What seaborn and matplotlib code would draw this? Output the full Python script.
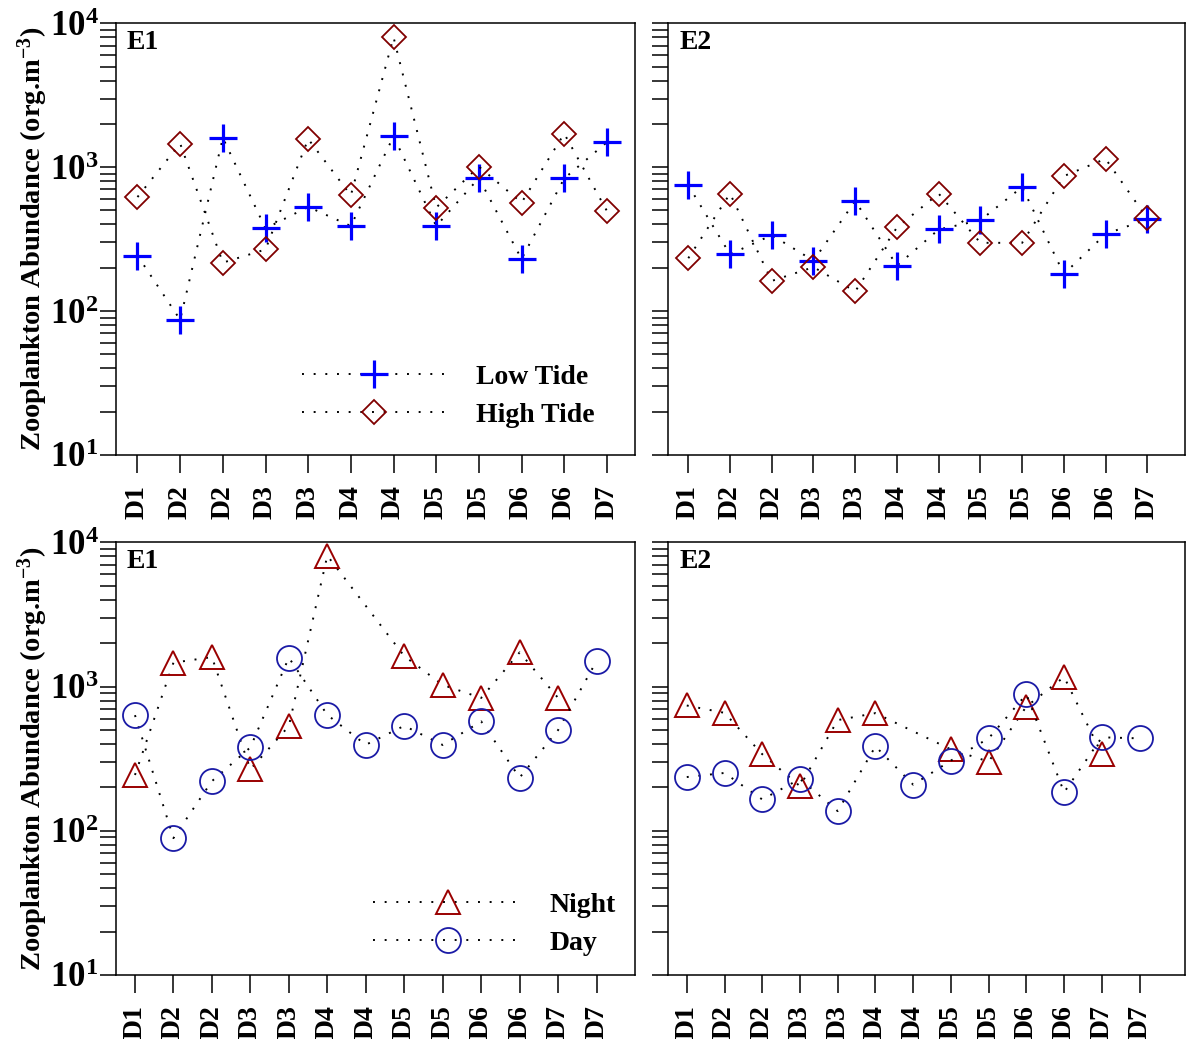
import numpy as np
import pandas as pd
import matplotlib
matplotlib.use("Agg")
import matplotlib.pyplot as plt
import seaborn as sns
from matplotlib.ticker import LogLocator, NullFormatter, FuncFormatter

# Tick labels (sampling days)
days_tide = ['D1', 'D2', 'D2', 'D3', 'D3', 'D4', 'D4', 'D5', 'D5', 'D6', 'D6', 'D7']
days_diel = ['D1', 'D2', 'D2', 'D3', 'D3', 'D4', 'D4', 'D5', 'D5', 'D6', 'D6', 'D7', 'D7']

# Zooplankton abundance (org.m-3)
e1_low_tide = [243, 87, 1600, 375, 530, 390, 1640, 390, 840, 230, 835, 1490]
e1_high_tide = [620, 1460, 217, 268, 1570, 637, 8000, 524, 1010, 567, 1710, 497]
e2_low_tide = [748, 248, 337, 224, 582, 207, 369, 428, 728, 181, 343, 435]
e2_high_tide = [233, 655, 162, 202, 137, 381, 655, 298, 298, 867, 1143, 440]

e1_night = [244, 1466, 1603, 267, 532, 8100, np.nan, 1630, 1028, 835, 1728, 835, np.nan]
e1_day = [634, 89, 221, 379, 1589, 637, 395, 535, 394, 574, 234, 500, 1506]
e2_night = [740, 658, 340, 204, 586, 655, np.nan, 367, 302, 728, 1167, 340, np.nan]
e2_day = [236, 252, 165, 229, 137, 385, 209, 307, 438, 885, 185, 445, 438]

sns.set_style("ticks")
plt.rcParams['font.family'] = ['Liberation Serif', 'DejaVu Serif']
plt.rcParams['font.weight'] = 'bold'
plt.rcParams['mathtext.fontset'] = 'custom'
plt.rcParams['mathtext.rm'] = 'Liberation Serif:bold'
plt.rcParams['mathtext.bf'] = 'Liberation Serif:bold'
plt.rcParams['mathtext.it'] = 'Liberation Serif:bold:italic'
for key in ['text.color', 'axes.labelcolor', 'xtick.color', 'ytick.color', 'axes.edgecolor']:
    plt.rcParams[key] = 'black'

STYLES = {
    'Low Tide': dict(marker='+', markersize=19.5, mec='#0000ff', mew=2.3),
    'High Tide': dict(marker='D', markersize=12.5, mfc='none', mec='#800000', mew=1.3),
    'Night': dict(marker='^', markersize=17, mfc='none', mec='#9a0000', mew=1.4),
    'Day': dict(marker='o', markersize=18, mfc='none', mec='#1a1aa6', mew=1.3),
}


def draw_series(ax, values, name, with_label):
    df = pd.DataFrame({'x': np.arange(1, len(values) + 1), 'y': values}).dropna()
    st = STYLES[name]
    sns.lineplot(data=df, x='x', y='y', ax=ax, color='k', linestyle=(0, (1, 5)),
                 lw=1.4, errorbar=None, label=name if with_label else None,
                 legend=with_label, **st)


def style_panel(ax, labels, xlim, tag, left_col):
    ax.set_yscale('log')
    ax.set_ylim(10, 1e4)
    ax.set_xlim(*xlim)
    ax.yaxis.set_major_locator(LogLocator(base=10, numticks=10))
    ax.yaxis.set_minor_locator(LogLocator(base=10, subs=np.arange(2, 10), numticks=10))
    ax.yaxis.set_minor_formatter(NullFormatter())
    ax.yaxis.set_major_formatter(FuncFormatter(lambda v, p: r'$\mathbf{10^{%d}}$' % round(np.log10(v))))
    ax.set_xticks(np.arange(1, len(labels) + 1))
    ax.set_xticklabels(labels, rotation=90, fontsize=20, fontweight='bold')
    ax.tick_params(axis='y', which='both', direction='out', length=11.5, width=1.1,
                   labelsize=25, pad=1, labelleft=left_col, right=False)
    ax.tick_params(axis='x', direction='out', length=13, width=1.1, pad=9, top=False)
    for s in ax.spines.values():
        s.set_linewidth(1.1)
        s.set_color('black')
    ax.set_xlabel('')
    if left_col:
        ax.set_ylabel(r'Zooplankton Abundance (org.m$^{\mathbf{-3}}$)', fontsize=20.5,
                      fontweight='bold')
        ax.yaxis.set_label_coords(-0.126, 0.5)
    else:
        ax.set_ylabel('')
    ax.text(0.021, 0.985, tag, transform=ax.transAxes, fontsize=20, fontweight='bold',
            ha='left', va='top')


fig = plt.figure(figsize=(11.87, 10.39), dpi=100)
ax_tl = fig.add_axes([0.0975, 0.5621, 0.4375, 0.4155])
ax_tr = fig.add_axes([0.563, 0.5621, 0.4352, 0.4155])
ax_bl = fig.add_axes([0.0975, 0.0616, 0.4375, 0.4163])
ax_br = fig.add_axes([0.563, 0.0616, 0.4352, 0.4163])

# top row: tide
draw_series(ax_tl, e1_low_tide, 'Low Tide', True)
draw_series(ax_tl, e1_high_tide, 'High Tide', True)
draw_series(ax_tr, e2_low_tide, 'Low Tide', False)
draw_series(ax_tr, e2_high_tide, 'High Tide', False)

# bottom row: day / night
draw_series(ax_bl, e1_night, 'Night', True)
draw_series(ax_bl, e1_day, 'Day', True)
draw_series(ax_br, e2_night, 'Night', False)
draw_series(ax_br, e2_day, 'Day', False)

style_panel(ax_tl, days_tide, (0.49, 12.66), 'E1', True)
style_panel(ax_tr, days_tide, (0.52, 12.9), 'E2', False)
style_panel(ax_bl, days_diel, (0.5, 14.0), 'E1', True)
style_panel(ax_br, days_diel, (0.51, 14.2), 'E2', False)

ax_tl.legend(loc='center', bbox_to_anchor=(0.64, 0.137), frameon=False,
             handlelength=5.2, handletextpad=1.05, labelspacing=0.45, numpoints=1,
             prop={'weight': 'bold', 'size': 20})
ax_bl.legend(loc='center', bbox_to_anchor=(0.729, 0.118), frameon=False,
             handlelength=5.4, handletextpad=0.95, labelspacing=0.45, numpoints=1,
             prop={'weight': 'bold', 'size': 20})

fig.savefig('out.png', dpi=100)
